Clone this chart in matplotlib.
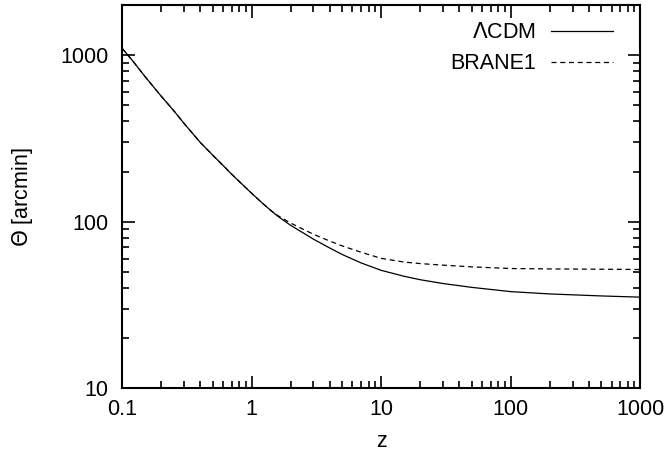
import matplotlib
matplotlib.use('Agg')
import matplotlib.pyplot as plt
from matplotlib.ticker import FixedLocator, FixedFormatter, LogLocator, NullFormatter

plt.rcParams['font.family'] = ['Liberation Sans', 'DejaVu Sans']

# Values
z = [0.1, 0.12, 0.15, 0.2, 0.25, 0.3, 0.4, 0.5, 0.6, 0.7, 0.85, 1.0, 1.2, 1.4, 1.6,
     2.0, 2.5, 3.0, 4.0, 5.0, 7.0, 10, 15, 20, 30, 50, 100, 200, 500, 1000]
theta_lcdm = [1100, 930, 745, 568, 465, 390, 300, 251, 218, 193, 167, 148, 130, 117, 107.5,
              95, 85.6, 78.5, 69.5, 63.5, 56.5, 51, 47, 44.8, 42.5, 40.3, 38, 36.8, 35.8, 35.2]
theta_brane = [1100, 930, 745, 568, 465, 390, 300, 251, 218, 193, 167, 148, 130, 117, 108.5,
               98, 90, 84, 76.5, 71.5, 65.5, 60.2, 57.2, 56, 54.8, 53.5, 52.3, 52, 51.8, 51.6]

xticks = [0.1, 1, 10, 100, 1000]
xlabels = ['0.1', '1', '10', '100', '1000']
yticks = [10, 100, 1000]
ylabels = ['10', '100', '1000']

fig = plt.figure(figsize=(6.67, 4.54), dpi=100)
ax = fig.add_axes([0.183, 0.145, 0.777, 0.844])

ax.plot(z, theta_lcdm, 'k-', lw=0.9, label=r'$\Lambda$CDM')
ax.plot(z, theta_brane, 'k--', lw=0.9, dashes=(4, 3), label='BRANE1')

ax.set_xscale('log')
ax.set_yscale('log')
ax.set_xlim(0.1, 1000)
ax.set_ylim(10, 2000)

ax.xaxis.set_major_locator(FixedLocator(xticks))
ax.xaxis.set_major_formatter(FixedFormatter(xlabels))
ax.yaxis.set_major_locator(FixedLocator(yticks))
ax.yaxis.set_major_formatter(FixedFormatter(ylabels))
ax.xaxis.set_minor_locator(LogLocator(base=10, subs=range(2, 10)))
ax.yaxis.set_minor_locator(LogLocator(base=10, subs=range(2, 10)))
ax.xaxis.set_minor_formatter(NullFormatter())
ax.yaxis.set_minor_formatter(NullFormatter())

ax.tick_params(which='both', direction='in', top=True, right=True, labelsize=15.5, width=1.2)
ax.tick_params(which='major', length=9)
ax.tick_params(which='minor', length=5)
ax.tick_params(axis='x', which='major', pad=8)
ax.tick_params(axis='y', which='major', pad=10)
for s in ax.spines.values():
    s.set_linewidth(1.5)

ax.set_xlabel('z', fontsize=15.5, labelpad=8)
ax.set_ylabel(r'$\Theta$ [arcmin]', fontsize=15.5, labelpad=18)

ax.legend(loc='upper right', bbox_to_anchor=(0.9645, 0.977), borderaxespad=0,
          frameon=False, markerfirst=False, fontsize=15.5,
          handlelength=2.9, handletextpad=0.7, labelspacing=0.45)

fig.savefig('out.png', dpi=100)
